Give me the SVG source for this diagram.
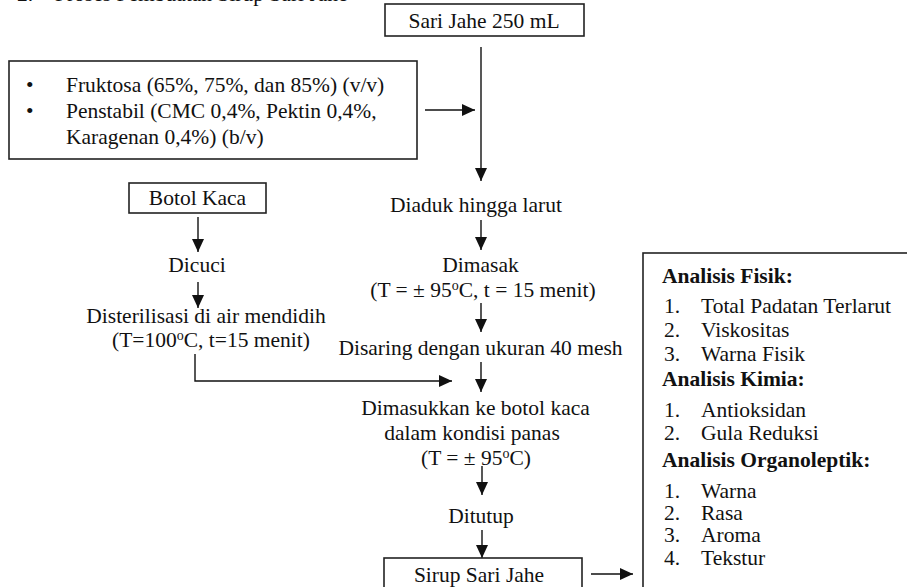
<svg xmlns="http://www.w3.org/2000/svg" width="907" height="587" viewBox="0 0 907 587">
<style>
.c{text-anchor:middle}
.b{font-weight:bold}
.box{fill:#fff;stroke:#222;stroke-width:1.6}
.ln{fill:none;stroke:#111;stroke-width:1.4}
</style>
<defs>
<marker id="ah" markerUnits="userSpaceOnUse" markerWidth="13" markerHeight="12" refX="13" refY="6" orient="auto">
<path d="M0,0 L13,6 L0,12 z" fill="#111"/>
</marker>
</defs>
<g font-family="'Liberation Serif', 'Times New Roman', 'DejaVu Serif', serif" font-size="21.5" fill="#111">
<text id="title" x="17" y="0.5">2.<tspan x="55">Proses Pembuatan Sirup Sari Jahe</tspan></text>

<g id="connectors">
<path class="ln" d="M481,47 V181" marker-end="url(#ah)"/>
<path class="ln" d="M425,110 H475" marker-end="url(#ah)"/>
<path class="ln" d="M198,217 V252" marker-end="url(#ah)"/>
<path class="ln" d="M198,282 V308" marker-end="url(#ah)"/>
<path class="ln" d="M195,354 V381 H452" marker-end="url(#ah)"/>
<path class="ln" d="M481,220 V250" marker-end="url(#ah)"/>
<path class="ln" d="M481,303 V332" marker-end="url(#ah)"/>
<path class="ln" d="M481,362 V392" marker-end="url(#ah)"/>
<path class="ln" d="M482,466 V495" marker-end="url(#ah)"/>
<path class="ln" d="M482,530 V558" marker-end="url(#ah)"/>
<path class="ln" d="M591,574 H633" marker-end="url(#ah)"/>
</g>

<g id="sari-jahe">
<rect class="box" x="385" y="4" width="199" height="32"/>
<text class="c" x="484" y="28">Sari Jahe 250 mL</text>
</g>

<g id="bahan">
<rect class="box" x="9" y="61" width="408" height="98"/>
<text x="26" y="92">•</text>
<text x="66" y="92">Fruktosa (65%, 75%, dan 85%) (v/v)</text>
<text x="26" y="118">•</text>
<text x="66" y="118">Penstabil (CMC 0,4%, Pektin 0,4%,</text>
<text x="66" y="144">Karagenan 0,4%) (b/v)</text>
</g>

<g id="botol-kaca">
<rect class="box" x="129" y="183" width="137" height="30"/>
<text class="c" x="197.5" y="205">Botol Kaca</text>
</g>

<g id="dicuci">
<text class="c" x="197" y="272">Dicuci</text>
</g>

<g id="disterilisasi">
<text class="c" x="206" y="323">Disterilisasi di air mendidih</text>
<text class="c" x="211" y="347">(T=100<tspan dy="-7" font-size="14">o</tspan><tspan dy="7">C, t=15 menit)</tspan></text>
</g>

<g id="diaduk">
<text class="c" x="476" y="212">Diaduk hingga larut</text>
</g>

<g id="dimasak">
<text class="c" x="480.5" y="272">Dimasak</text>
<text class="c" x="483" y="297">(T = ± 95<tspan dy="-7" font-size="14">o</tspan><tspan dy="7">C, t = 15 menit)</tspan></text>
</g>

<g id="disaring">
<text class="c" x="480.5" y="355">Disaring dengan ukuran 40 mesh</text>
</g>

<g id="dimasukkan">
<text class="c" x="475.5" y="415">Dimasukkan ke botol kaca</text>
<text class="c" x="472" y="440">dalam kondisi panas</text>
<text class="c" x="476" y="465">(T = ± 95<tspan dy="-7" font-size="14">o</tspan><tspan dy="7">C)</tspan></text>
</g>

<g id="ditutup">
<text class="c" x="481" y="523">Ditutup</text>
</g>

<g id="sirup">
<rect class="box" x="384" y="558" width="198" height="40"/>
<text class="c" x="479" y="582">Sirup Sari Jahe</text>
</g>

<g id="analisis">
<rect class="box" x="643" y="253" width="300" height="400"/>
<text class="b" x="662" y="283">Analisis Fisik:</text>
<text x="664" y="313">1.</text><text x="701" y="313">Total Padatan Terlarut</text>
<text x="664" y="337">2.</text><text x="701" y="337">Viskositas</text>
<text x="664" y="361">3.</text><text x="701" y="361">Warna Fisik</text>
<text class="b" x="662" y="386">Analisis Kimia:</text>
<text x="664" y="417">1.</text><text x="701" y="417">Antioksidan</text>
<text x="664" y="440">2.</text><text x="701" y="440">Gula Reduksi</text>
<text class="b" x="662" y="467">Analisis Organoleptik:</text>
<text x="664" y="498">1.</text><text x="701" y="498">Warna</text>
<text x="664" y="520">2.</text><text x="701" y="520">Rasa</text>
<text x="664" y="542">3.</text><text x="701" y="542">Aroma</text>
<text x="664" y="565">4.</text><text x="701" y="565">Tekstur</text>
</g>
</g>
</svg>
